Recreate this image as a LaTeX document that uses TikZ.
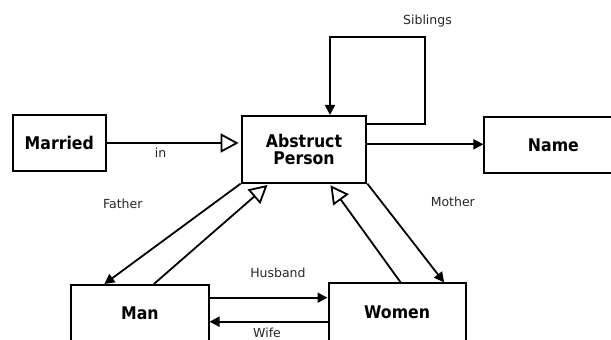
\documentclass[tikz,border=0pt]{standalone}
\usepackage{fontspec}
\setmainfont{DejaVu Sans}
\newfontfamily\boxfont{DejaVu Sans Condensed}
\usetikzlibrary{arrows.meta}
\begin{document}
\begin{tikzpicture}[x=1pt,y=-1pt,
  entity/.style={draw, line width=2pt, rectangle, inner sep=0pt,
    font=\boxfont\bfseries\fontsize{17.5}{19}\selectfont, align=center},
  rel/.style={font=\fontsize{12.5}{14}\selectfont, text=black!85},
  link/.style={line width=1.8pt},
  assoc/.style={link, -{Triangle[length=10pt,width=10pt]}},
  inherit/.style={link, -{Triangle[open,length=18pt,width=19pt,line width=1.8pt]}, shorten >=2pt}]
\useasboundingbox (0,0) rectangle (611,340);
\clip (0,0) rectangle (611,340);

% entities
\node[entity, minimum width=92.7pt, minimum height=55.4pt] (married) at (59.3,143) {Married};
\node[entity, minimum width=124.7pt, minimum height=66.7pt] (person) at (304,149.3) {Abstruct\\[-2pt]Person};
\node[entity, minimum width=140pt, minimum height=56.7pt] (name) at (554.4,145) {\hspace*{-2pt}Name};
\node[entity, minimum width=137.2pt, minimum height=57pt] (man) at (139.9,313.5) {Man};
\node[entity, minimum width=137.2pt, minimum height=58.7pt] (women) at (397.1,312.7) {Women};

% relation labels
\node[rel] (lsib) at (427.5,21.5) {Siblings};
\node[rel] (lin) at (160.6,152.3) {in};
\node[rel] (lfather) at (122.8,204.3) {Father};
\node[rel] (lmother) at (452.8,202.3) {Mother};
\node[rel] (lhusband) at (277.9,273.3) {Husband};
\node[rel] (lwife) at (267,332.5) {Wife};

% connectors
\coordinate (loopcorner) at (424.8,37.3);
\draw[inherit] (married.east) -- (married.east -| person.west);
\draw[assoc] ([yshift=-9pt]person.north east) -| (loopcorner) -| ([xshift=26pt]person.north);
\draw[assoc] ([yshift=5pt]person.east) -- ([yshift=5pt]person.east -| name.west);
\draw[assoc] (person.south west) -- ([xshift=-35.5pt]man.north);
\draw[inherit] ([xshift=14pt]man.north) -- ([xshift=-35pt]person.south);
\draw[inherit] ([xshift=3.5pt]women.north) -- ([xshift=25.3pt]person.south);
\draw[assoc] (person.south east) -- ([xshift=47pt]women.north);
\draw[assoc] ([yshift=15.8pt]man.east) -- ([yshift=15.8pt]man.east -| women.west);
\draw[assoc] ([yshift=-9pt]women.west) -- ([yshift=-9pt]women.west -| man.east);
\end{tikzpicture}
\end{document}
